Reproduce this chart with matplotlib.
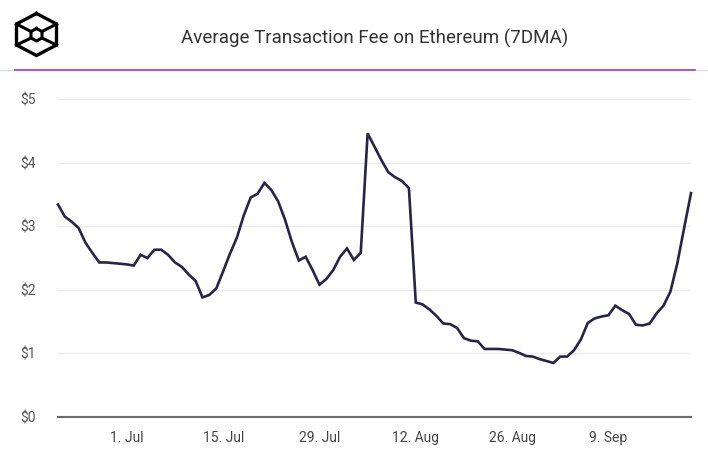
import pandas as pd
import matplotlib
matplotlib.use('Agg')
import matplotlib.pyplot as plt
import matplotlib.dates as mdates
from matplotlib.lines import Line2D

# Average transaction fee (USD), 7-day moving average, daily from 21 Jun
start_date = '2019-06-21'
fees = [3.34, 3.15, 3.07, 2.97, 2.74, 2.58, 2.43, 2.43, 2.42, 2.41,
        2.40, 2.38, 2.55, 2.50, 2.63, 2.63, 2.55, 2.43, 2.36, 2.24,
        2.14, 1.88, 1.92, 2.02, 2.29, 2.57, 2.82, 3.17, 3.45, 3.51,
        3.68, 3.57, 3.39, 3.10, 2.75, 2.46, 2.52, 2.31, 2.08, 2.17,
        2.31, 2.52, 2.65, 2.47, 2.58, 4.46, 4.25, 4.04, 3.85, 3.77,
        3.71, 3.60, 1.80, 1.77, 1.69, 1.59, 1.47, 1.46, 1.40, 1.24,
        1.20, 1.19, 1.07, 1.07, 1.07, 1.06, 1.05, 1.01, 0.96, 0.95,
        0.91, 0.88, 0.85, 0.95, 0.95, 1.05, 1.22, 1.48, 1.55, 1.58,
        1.60, 1.75, 1.68, 1.62, 1.45, 1.44, 1.47, 1.63, 1.75, 1.97,
        2.41, 2.97, 3.52]
dates = pd.date_range(start_date, periods=len(fees), freq='D')

tick_dates = pd.to_datetime(['2019-07-01', '2019-07-15', '2019-07-29',
                             '2019-08-12', '2019-08-26', '2019-09-09'])
tick_labels = ['1. Jul', '15. Jul', '29. Jul', '12. Aug', '26. Aug', '9. Sep']
y_ticks = [0, 1, 2, 3, 4, 5]
y_labels = ['$0', '$1', '$2', '$3', '$4', '$5']

plt.rcParams['font.family'] = ['Roboto', 'DejaVu Sans']

W, H = 708, 453
fig = plt.figure(figsize=(W / 100, H / 100), dpi=100)

# plot area in pixels
left, right, top, bottom = 58, 691, 99, 417
ax = fig.add_axes([left / W, (H - bottom) / H, (right - left) / W, (bottom - top) / H])

ax.plot(dates, fees, color='#27244a', linewidth=1.9, solid_joinstyle='miter', clip_on=False)

ax.set_xlim(dates[0], dates[-1])
ax.set_ylim(0, 5)
ax.set_yticks(y_ticks)
ax.set_yticklabels(y_labels)
ax.set_xticks(tick_dates)
ax.set_xticklabels(tick_labels)
ax.tick_params(axis='both', length=0, labelsize=10, colors='#555555')
ax.tick_params(axis='x', pad=10, labelcolor='#444444')
ax.tick_params(axis='y', pad=16)
ax.grid(axis='y', color='#ececec', linewidth=1)
ax.set_axisbelow(True)
for s in ['top', 'right', 'left']:
    ax.spines[s].set_visible(False)
ax.spines['bottom'].set_color('#6b6b6b')
ax.spines['bottom'].set_linewidth(1.5)

# title and header rule
fig.text(375 / W, 1 - 38 / H, 'Average Transaction Fee on Ethereum (7DMA)',
         ha='center', va='center', fontsize=13.5, color='#333333')
fig.add_artist(Line2D([0, 1], [1 - 70 / H] * 2, color='#dddddd', linewidth=1))
fig.add_artist(Line2D([15 / W, 695 / W], [1 - 69.5 / H] * 2, color='#a64ac9', linewidth=1.3))

# logo: hexagonal cube
def px(x, y):
    return x / W, 1 - y / H

outer = [(36.5, 13.5), (56.5, 24), (56.5, 45), (36.5, 55.5), (16.5, 45), (16.5, 24), (36.5, 13.5)]
inner = [(36.5, 28.5), (42, 31.5), (42, 38), (36.5, 41), (31, 38), (31, 31.5), (36.5, 28.5)]
xs, ys = zip(*[px(*p) for p in outer])
fig.add_artist(Line2D(xs, ys, color='black', linewidth=2.4, solid_joinstyle='miter'))
xs, ys = zip(*[px(*p) for p in inner])
fig.add_artist(Line2D(xs, ys, color='black', linewidth=2.2))
for a, b in [((16.5, 24), (31, 31.5)), ((56.5, 24), (42, 31.5)),
             ((16.5, 45), (31, 38)), ((56.5, 45), (42, 38))]:
    xs, ys = zip(px(*a), px(*b))
    fig.add_artist(Line2D(xs, ys, color='black', linewidth=2.2))

fig.savefig('out.png', dpi=100)
